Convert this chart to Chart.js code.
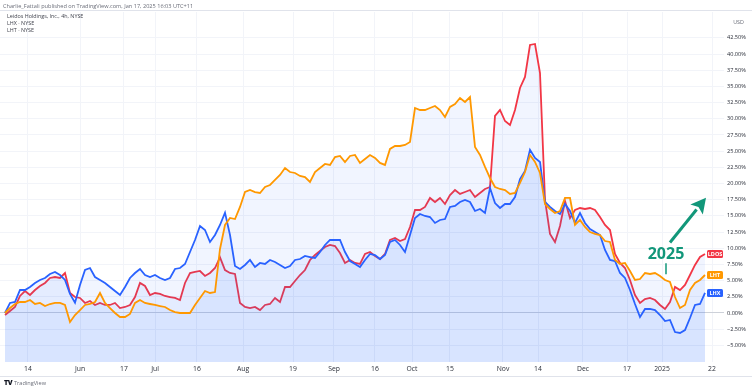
<!DOCTYPE html>
<html>
<head>
<meta charset="utf-8">
<script src="https://cdn.jsdelivr.net/npm/chart.js@4.4.1/dist/chart.umd.min.js"></script>
<style>
  html, body { margin: 0; padding: 0; background: #fff; }
  #wrap { position: relative; width: 752px; height: 388px; overflow: hidden; font-family: "Open Sans", Roboto, Arial, sans-serif; }
  #chart { position: absolute; left: 0; top: 0; }
  .txt { position: absolute; white-space: nowrap; }
  #publ { left: 3px; top: 2px; font-size: 5.6px; color: #6a6d78; }
  #legend { left: 7px; top: 13px; font-size: 5.4px; line-height: 6.8px; color: #40434d; }
  #usd { right: 8px; top: 18px; font-size: 5.4px; color: #6a6d78; }
  #logo { left: 4px; top: 378px; font-size: 5.6px; color: #6a6d78; }
  #logo b { color: #131722; font-size: 7px; font-weight: 900; letter-spacing: -0.5px; margin-right: 2px; }
  .hline { position: absolute; left: 0; width: 752px; height: 1px; background: #e0e3eb; }
</style>
</head>
<body>
<div id="wrap">
  <canvas id="chart" width="752" height="388"></canvas>
  <div class="hline" style="top:10px"></div>
  <div class="hline" style="top:376px"></div>
  <div class="txt" id="publ">Charlie_Fattali published on TradingView.com, Jan 17, 2025 16:03 UTC+11</div>
  <div class="txt" id="legend">Leidos Holdings, Inc., 4h, NYSE<br>LHX · NYSE<br>LHT · NYSE</div>
  <div class="txt" id="usd">USD</div>
  <div class="txt" id="logo"><b>TV</b>TradingView</div>
</div>
<script>
// % change since start, one value per ~1.3 trading days (4h chart)
const LDOS = [-0.31, 0.31, 0.93, 2.63, 3.40, 2.78, 3.55, 4.17, 4.64, 5.41, 5.56, 5.41, 6.18, 3.09, 2.47, 2.32, 1.55, 1.85, 1.24, 1.55,
  1.24, 1.24, 1.55, 0.77, 0.93, 1.24, 2.47, 4.64, 4.17, 2.78, 3.09, 2.94, 2.63, 2.47, 2.32, 2.01, 4.64, 6.18, 6.34, 6.49,
  5.72, 6.18, 6.95, 8.60, 6.64, 6.18, 6.03, 1.55, 0.93, 0.77, 0.93, 0.46, 1.24, 1.39, 2.32, 1.70, 4.02, 4.02, 4.94, 5.87,
  6.64, 8.19, 8.96, 9.58, 10.20, 10.51, 10.35, 9.27, 7.73, 8.19, 7.73, 7.57, 9.12, 9.42, 8.81, 8.34, 9.12, 11.28, 11.59, 11.12,
  11.43, 13.29, 15.91, 15.91, 16.38, 17.77, 17.15, 17.77, 16.84, 18.23, 19.00, 18.39, 18.69, 19.00, 17.92, 18.54, 19.16, 19.47, 30.44, 31.36,
  29.66, 29.05, 31.36, 34.76, 36.46, 41.41, 41.56, 37.08, 17.46, 12.21, 10.97, 13.44, 17.30, 14.68, 15.91, 16.22, 16.07, 16.22, 15.91, 14.83,
  13.60, 12.82, 9.12, 7.73, 6.95, 5.10, 2.78, 1.55, 2.16, 2.32, 2.01, 1.24, 0.62, 1.70, 4.02, 3.55, 4.33, 5.87, 7.42, 8.65,
  9.12];
const LHX = [0, 1.55, 1.70, 3.55, 3.55, 4.02, 4.64, 5.10, 5.41, 6.03, 6.34, 5.87, 5.10, 2.94, 1.60, 4.33, 6.64, 6.95, 5.56, 5.10,
  4.64, 4.02, 3.40, 2.78, 4.02, 5.41, 6.18, 6.80, 5.87, 5.56, 5.87, 5.41, 5.10, 5.41, 6.80, 6.95, 7.57, 9.42, 11.28, 13.44,
  12.82, 10.97, 12.05, 13.60, 15.50, 12.05, 7.26, 6.80, 7.42, 8.19, 7.11, 7.73, 7.57, 8.19, 7.88, 7.42, 6.95, 7.26, 8.19, 8.34,
  8.81, 8.65, 8.50, 9.42, 10.51, 11.28, 11.28, 11.28, 9.42, 8.03, 7.57, 7.11, 8.19, 9.12, 8.96, 8.34, 8.96, 10.97, 11.28, 10.51,
  9.42, 12.05, 14.68, 15.30, 14.99, 14.83, 13.91, 14.37, 14.52, 16.38, 16.53, 17.15, 17.46, 17.15, 15.76, 16.07, 15.45, 19.31, 16.99, 16.22,
  16.84, 16.84, 17.92, 20.70, 21.94, 25.20, 23.95, 23.33, 17.15, 16.38, 15.76, 15.30, 16.84, 15.76, 13.91, 15.45, 13.91, 12.98, 12.51, 12.05,
  9.73, 8.19, 8.03, 6.18, 5.41, 3.55, 1.39, -0.62, 0.62, 0.62, 0.46, -0.31, -1.24, -1.08, -2.94, -3.09, -2.63, -0.77, 1.24, 1.39,
  3.09];
const LHT = [0, 0.77, 1.39, 1.70, 1.70, 2.01, 1.39, 1.55, 1.08, 1.39, 1.55, 1.55, 1.24, -1.40, -0.31, 0.46, 1.24, 1.39, 1.70, 3.09,
  1.55, 0.77, 0, -0.62, -0.62, -0.15, 1.55, 2.01, 1.55, 1.39, 1.24, 1.08, 0.93, 0.46, 0.15, 0, 0, 0, 1.24, 2.32,
  3.40, 3.09, 3.24, 9.89, 13.60, 14.68, 14.52, 16.38, 18.69, 19.00, 18.69, 18.54, 19.47, 19.78, 20.55, 21.32, 22.40, 21.78, 21.63, 21.17,
  21.01, 20.24, 21.78, 22.40, 23.02, 22.87, 24.10, 24.26, 23.33, 24.26, 24.41, 23.18, 23.79, 24.41, 23.95, 23.18, 22.87, 25.34, 25.80, 25.80,
  25.96, 26.42, 31.67, 31.36, 31.36, 31.67, 31.98, 31.36, 30.28, 31.83, 32.29, 33.22, 32.60, 33.37, 25.65, 24.41, 22.56, 20.86, 19.47, 19.16,
  19.00, 18.39, 18.54, 20.09, 21.78, 24.41, 23.33, 21.63, 16.84, 16.07, 15.45, 15.76, 17.77, 17.77, 13.60, 14.37, 13.29, 12.51, 12.21, 12.05,
  11.12, 10.97, 8.19, 7.57, 7.73, 6.49, 5.10, 5.25, 6.18, 6.03, 6.18, 5.72, 5.10, 4.79, 2.47, 0.77, 1.24, 3.55, 4.64, 5.10,
  5.87];

// time axis labels, positioned by bar index
const xTickPos  = [4.6, 15, 23.8, 30, 38.4, 47.6, 57.6, 65.8, 74, 81.4, 89, 99.6, 106.6, 115.6, 124.4, 131.4, 141.4];
const xTickText = ['14', 'Jun', '17', 'Jul', '16', 'Aug', '19', 'Sep', '16', 'Oct', '15', 'Nov', '14', 'Dec', '17', '2025', '22'];
const yTicks = [-5, -2.5, 0, 2.5, 5, 7.5, 10, 12.5, 15, 17.5, 20, 22.5, 25, 27.5, 30, 32.5, 35, 37.5, 40, 42.5];

const series = [
  { name: 'LHT', data: LHT, color: '#ff9800' },
  { name: 'LHX', data: LHX, color: '#2962ff' },
  { name: 'LDOS', data: LDOS, color: '#f23645' },
];

// "2025" note with arrow, in data units
const note = { text: '2025', at: [132.2, 9.1], tick: [132.2, 7.7, 6.0], arrowFrom: [133, 10.9], arrowTo: [140.2, 17.8], color: '#12977a' };

const symbolLabels = {
  id: 'symbolLabels',
  afterDatasetsDraw(chart) {
    const { ctx, chartArea, scales } = chart;
    ctx.save();
    ctx.font = 'bold 5.5px "Open Sans", Arial, sans-serif';
    ctx.textAlign = 'center';
    ctx.textBaseline = 'middle';
    series.forEach(s => {
      const y = scales.y.getPixelForValue(s.data[s.data.length - 1]);
      const w = 16, h = 8;
      const x0 = chartArea.right - w - 1;
      ctx.fillStyle = s.color;
      ctx.beginPath();
      ctx.roundRect(x0, y - h / 2, w, h, 1.5);
      ctx.fill();
      ctx.fillStyle = '#fff';
      ctx.fillText(s.name, x0 + w / 2, y + 0.3);
    });
    ctx.restore();
  }
};

const notePlugin = {
  id: 'notePlugin',
  afterDatasetsDraw(chart) {
    const { ctx, scales: { x, y } } = chart;
    ctx.save();
    ctx.fillStyle = note.color;
    ctx.strokeStyle = note.color;
    ctx.font = 'bold 16px "Open Sans", Arial, sans-serif';
    ctx.textAlign = 'center';
    ctx.textBaseline = 'middle';
    ctx.fillText(note.text, x.getPixelForValue(note.at[0]), y.getPixelForValue(note.at[1]));
    ctx.lineWidth = 1.5;
    ctx.beginPath();
    ctx.moveTo(x.getPixelForValue(note.tick[0]), y.getPixelForValue(note.tick[1]));
    ctx.lineTo(x.getPixelForValue(note.tick[0]), y.getPixelForValue(note.tick[2]));
    ctx.stroke();
    const ax = x.getPixelForValue(note.arrowFrom[0]), ay = y.getPixelForValue(note.arrowFrom[1]);
    const bx = x.getPixelForValue(note.arrowTo[0]), by = y.getPixelForValue(note.arrowTo[1]);
    const ang = Math.atan2(by - ay, bx - ax);
    const headLen = 15, headW = 8;
    const hx = bx - headLen * Math.cos(ang), hy = by - headLen * Math.sin(ang);
    ctx.lineWidth = 3;
    ctx.beginPath();
    ctx.moveTo(ax, ay);
    ctx.lineTo(hx, hy);
    ctx.stroke();
    ctx.beginPath();
    ctx.moveTo(bx, by);
    ctx.lineTo(hx + headW * Math.sin(ang), hy - headW * Math.cos(ang));
    ctx.lineTo(hx + 3 * Math.cos(ang), hy + 3 * Math.sin(ang));
    ctx.lineTo(hx - headW * Math.sin(ang), hy + headW * Math.cos(ang));
    ctx.closePath();
    ctx.fill();
    ctx.restore();
  }
};

new Chart(document.getElementById('chart'), {
  type: 'line',
  data: {
    datasets: series.map(s => ({
      label: s.name,
      data: s.data.map((v, i) => ({ x: i, y: v })),
      borderColor: s.color,
      borderWidth: 1.8,
      backgroundColor: 'rgba(41,98,255,0.065)',
      fill: 'start',
      pointRadius: 0,
      tension: 0,
    }))
  },
  options: {
    responsive: false,
    animation: false,
    layout: { padding: { top: 12, bottom: 12, left: 0, right: 0 } },
    plugins: { legend: { display: false }, tooltip: { enabled: false } },
    scales: {
      x: {
        type: 'linear', min: -1, max: 143.8,
        afterBuildTicks: s => { s.ticks = xTickPos.map(v => ({ value: v })); },
        afterFit: s => { s.height = 14; },
        ticks: { autoSkip: false, maxRotation: 0, padding: 3, color: '#2a2e39', font: { size: 6.8, family: '"Open Sans", Arial, sans-serif' },
          callback: (v, i) => xTickText[i] },
        grid: { color: '#f2f4f9', drawTicks: false },
        border: { display: false }
      },
      y: {
        position: 'right', min: -7.57, max: 46.5,
        afterBuildTicks: s => { s.ticks = yTicks.map(v => ({ value: v })); },
        afterFit: s => { s.width = 28; },
        ticks: { padding: 3, color: '#2a2e39', font: { size: 5.6, family: '"Open Sans", Arial, sans-serif' },
          callback: v => (v < 0 ? '\u2212' : '') + Math.abs(v).toFixed(2) + '%' },
        grid: { color: c => c.tick && c.tick.value === 0 ? '#cdd1d9' : '#f2f4f9', drawTicks: false },
        border: { display: false }
      }
    }
  },
  plugins: [symbolLabels, notePlugin]
});
</script>
</body>
</html>
